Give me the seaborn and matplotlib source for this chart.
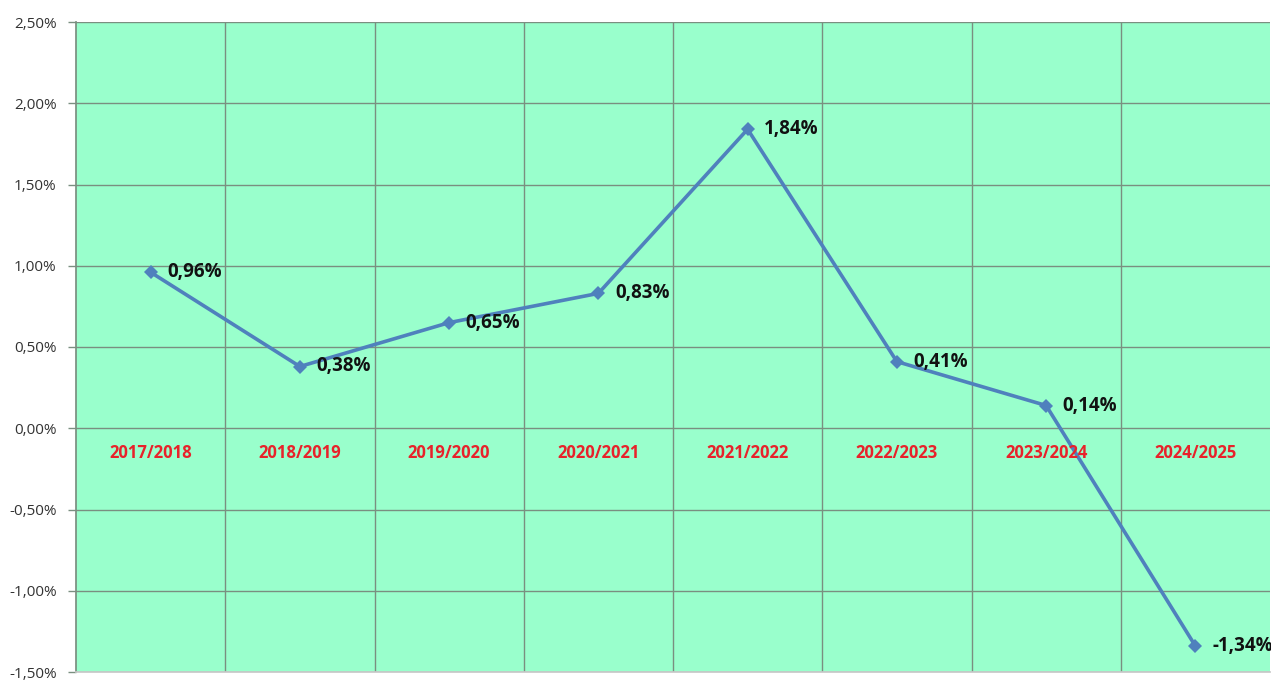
import matplotlib
matplotlib.use("Agg")
import matplotlib.pyplot as plt
import seaborn as sns
import pandas as pd
from matplotlib.ticker import FuncFormatter, MultipleLocator

seasons = ["2017/2018", "2018/2019", "2019/2020", "2020/2021",
           "2021/2022", "2022/2023", "2023/2024", "2024/2025"]
growth = [0.96, 0.38, 0.65, 0.83, 1.84, 0.41, 0.14, -1.34]
y_ticks = [-1.5, -1.0, -0.5, 0.0, 0.5, 1.0, 1.5, 2.0, 2.5]

df = pd.DataFrame({"season": seasons, "growth": growth})

sns.set_theme(style="white")
plt.rcParams["font.family"] = ["Open Sans", "DejaVu Sans"]

fig = plt.figure(figsize=(12.71, 6.80), dpi=100)
ax = fig.add_axes([76 / 1271, 8 / 680, 1194 / 1271, 650 / 680])
ax.set_facecolor("#99FFCC")

sns.lineplot(data=df, x="season", y="growth", ax=ax, color="#4F81BD",
             linewidth=2.6, marker="D", markersize=7, markeredgewidth=0,
             sort=False)

ax.set_xlim(-0.5, len(seasons) - 0.5)
ax.set_ylim(y_ticks[0], y_ticks[-1])
ax.yaxis.set_major_locator(MultipleLocator(0.5))
ax.yaxis.set_major_formatter(
    FuncFormatter(lambda v, p: f"{v:.2f}%".replace(".", ",")))
ax.set_xticks([i - 0.5 for i in range(1, len(seasons))], minor=True)
ax.set_xticks([])
ax.grid(True, which="major", axis="y", color="#7a8f80", linewidth=1)
ax.grid(True, which="minor", axis="x", color="#7a8f80", linewidth=1)
ax.set_axisbelow(True)
ax.tick_params(axis="y", which="major", left=True, length=6, width=1,
               color="#7a8f80", labelsize=11, labelcolor="#333333", pad=8)
ax.tick_params(axis="x", which="minor", bottom=False)
for s in ["top", "right"]:
    ax.spines[s].set_visible(False)
ax.spines["left"].set_color("#7a8f80")
ax.spines["bottom"].set_color("#c8c8c8")
ax.set_xlabel("")
ax.set_ylabel("")

# category labels sit just below the zero line
for i, s in enumerate(seasons):
    ax.annotate(s, (i, 0), xytext=(0, -18), textcoords="offset points",
                ha="center", va="center", color="#e8222a",
                fontsize=12, fontweight="bold")

# value labels to the right of each point
for i, v in enumerate(growth):
    ax.annotate(f"{v:.2f}%".replace(".", ","), (i, v), xytext=(12, 0),
                textcoords="offset points", ha="left", va="center",
                color="#111111", fontsize=13.5, fontweight="bold")

fig.savefig("out.png", dpi=100)
